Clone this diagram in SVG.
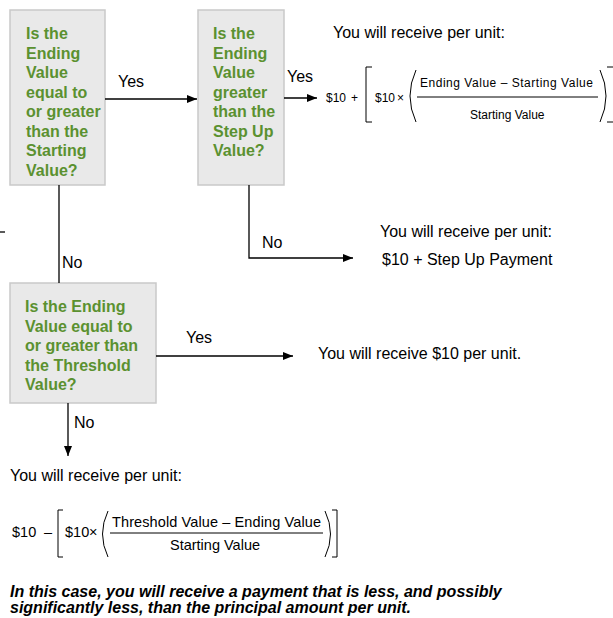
<svg xmlns="http://www.w3.org/2000/svg" width="613" height="618" viewBox="0 0 613 618">
<defs>
<style>
.box{fill:#e9e9e9;stroke:#c9c9c9;stroke-width:1.5}
.q{font-family:"Liberation Sans",Arial,sans-serif;font-weight:bold;font-size:16px;fill:#5b9130}
.t{font-family:"Liberation Sans",Arial,sans-serif;font-size:16px;fill:#000}
.s{font-family:"Liberation Sans",Arial,sans-serif;font-size:12px;fill:#000}
.m{font-family:"Liberation Sans",Arial,sans-serif;font-size:14.5px;fill:#000}
.bi{font-family:"Liberation Sans",Arial,sans-serif;font-size:16px;font-weight:bold;font-style:italic;fill:#000}
.ln{stroke:#000;stroke-width:1.3;fill:none}
.br{stroke:#000;stroke-width:1;fill:none}
</style>
<marker id="ah" markerWidth="10" markerHeight="8" refX="10" refY="4" orient="auto" markerUnits="userSpaceOnUse">
<path d="M0,0 L10,4 L0,8 Z" fill="#000"/>
</marker>
</defs>
<rect width="613" height="618" fill="#fff"/>

<g id="q1">
<rect class="box" x="10" y="10" width="95" height="175"/>
<text class="q" x="26" y="39">Is the</text>
<text class="q" x="26" y="58.5">Ending</text>
<text class="q" x="26" y="78">Value</text>
<text class="q" x="26" y="97.5">equal to</text>
<text class="q" x="26" y="117">or greater</text>
<text class="q" x="26" y="136.5">than the</text>
<text class="q" x="26" y="156">Starting</text>
<text class="q" x="26" y="175.5">Value?</text>
</g>

<g id="q2">
<rect class="box" x="198" y="10" width="86" height="175"/>
<text class="q" x="213" y="39">Is the</text>
<text class="q" x="213" y="58.5">Ending</text>
<text class="q" x="213" y="78">Value</text>
<text class="q" x="213" y="97.5">greater</text>
<text class="q" x="213" y="117">than the</text>
<text class="q" x="213" y="136.5">Step Up</text>
<text class="q" x="213" y="156">Value?</text>
</g>

<g id="q3">
<rect class="box" x="10" y="283" width="146" height="120"/>
<text class="q" x="25" y="312">Is the Ending</text>
<text class="q" x="25" y="331.5">Value equal to</text>
<text class="q" x="25" y="351">or greater than</text>
<text class="q" x="25" y="370.5">the Threshold</text>
<text class="q" x="25" y="390">Value?</text>
</g>

<g id="connectors">
<line class="ln" x1="105" y1="99" x2="197" y2="99" marker-end="url(#ah)"/>
<line class="ln" x1="284" y1="98" x2="317" y2="98" marker-end="url(#ah)"/>
<line class="ln" x1="59" y1="185" x2="59" y2="283"/>
<polyline class="ln" points="249,185 249,258 353,258" marker-end="url(#ah)"/>
<line class="ln" x1="156" y1="356" x2="293" y2="356" marker-end="url(#ah)"/>
<line class="ln" x1="68" y1="403" x2="68" y2="456" marker-end="url(#ah)"/>
<line class="ln" x1="0" y1="232" x2="5" y2="232"/>
<text class="t" x="118" y="87">Yes</text>
<text class="t" x="287" y="82">Yes</text>
<text class="t" x="62" y="268">No</text>
<text class="t" x="262" y="248">No</text>
<text class="t" x="186" y="343">Yes</text>
<text class="t" x="74" y="428">No</text>
</g>

<g id="r1">
<text class="t" x="333" y="38">You will receive per unit:</text>
<text class="s" x="326" y="102">$10</text>
<text class="s" x="351" y="102">+</text>
<path class="br" d="M372,67 H366 V122 H372"/>
<text class="s" x="375" y="102">$10</text>
<text class="s" x="397" y="102" font-size="10">×</text>
<path class="br" d="M416,70 Q404,96 416,122"/>
<text class="s" x="420" y="87" textLength="173" lengthAdjust="spacing">Ending  Value  – Starting  Value</text>
<line class="br" x1="417" y1="97" x2="598" y2="97"/>
<text class="s" x="470" y="119">Starting Value</text>
<path class="br" d="M600,70 Q612,96 600,122"/>
<path class="br" d="M607,67 H613 M607,122 H613"/>
</g>

<g id="r2">
<text class="t" x="380" y="237">You will receive per unit:</text>
<text class="t" x="382" y="265">$10 + Step Up Payment</text>
</g>

<g id="r3">
<text class="t" x="318" y="359">You will receive $10 per unit.</text>
</g>

<g id="r4">
<text class="t" x="10" y="481">You will receive per unit:</text>
<text class="m" x="12" y="537">$10</text>
<text class="m" x="44" y="537">–</text>
<path class="br" d="M63,510 H58 V557 H63"/>
<text class="m" x="65" y="537">$10</text>
<text class="m" x="89" y="537" font-size="13">×</text>
<path class="br" d="M108,511 Q97,534 108,557"/>
<text class="m" x="112" y="527" textLength="209" lengthAdjust="spacing">Threshold Value – Ending Value</text>
<line class="br" x1="110" y1="533" x2="323" y2="533"/>
<text class="m" x="170" y="550">Starting Value</text>
<path class="br" d="M325,511 Q336,534 325,557"/>
<path class="br" d="M332,510 H337 V557 H332"/>
</g>

<g id="note">
<text class="bi" x="10" y="597">In this case, you will receive a payment that is less, and possibly</text>
<text class="bi" x="10" y="613">significantly less, than the principal amount per unit.</text>
</g>
</svg>
